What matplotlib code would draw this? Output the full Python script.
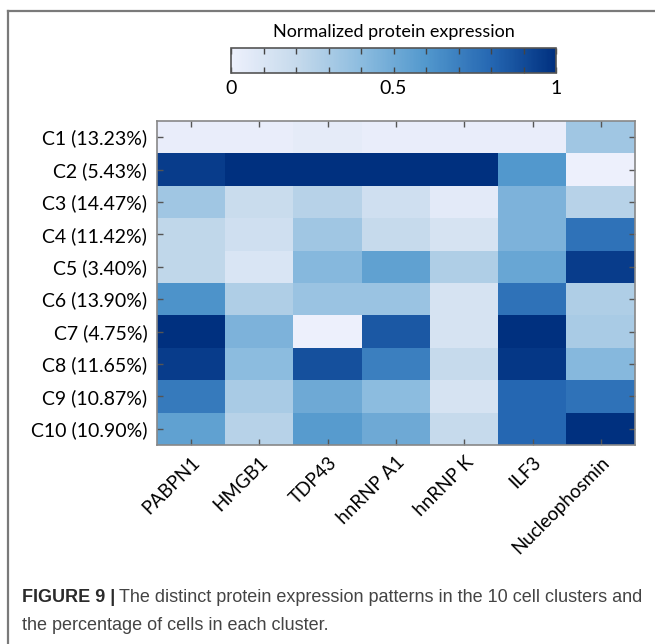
import numpy as np
import matplotlib
matplotlib.use('Agg')
import matplotlib.pyplot as plt
from matplotlib.colors import LinearSegmentedColormap
from matplotlib.lines import Line2D

plt.rcParams['font.family'] = ['Lato', 'DejaVu Sans']

# data
clusters = ['C1 (13.23%)', 'C2 (5.43%)', 'C3 (14.47%)', 'C4 (11.42%)', 'C5 (3.40%)',
            'C6 (13.90%)', 'C7 (4.75%)', 'C8 (11.65%)', 'C9 (10.87%)', 'C10 (10.90%)']
proteins = ['PABPN1', 'HMGB1', 'TDP43', 'hnRNP A1', 'hnRNP K', 'ILF3', 'Nucleophosmin']
expr = np.array([
    [0.02, 0.02, 0.04, 0.02, 0.02, 0.02, 0.33],
    [0.95, 1.00, 1.00, 1.00, 1.00, 0.60, 0.00],
    [0.33, 0.18, 0.25, 0.15, 0.05, 0.45, 0.25],
    [0.22, 0.15, 0.33, 0.20, 0.12, 0.45, 0.75],
    [0.22, 0.10, 0.42, 0.55, 0.28, 0.52, 0.95],
    [0.62, 0.28, 0.35, 0.35, 0.12, 0.75, 0.28],
    [1.00, 0.45, 0.00, 0.85, 0.12, 1.00, 0.30],
    [0.95, 0.40, 0.88, 0.70, 0.20, 0.97, 0.42],
    [0.72, 0.30, 0.50, 0.40, 0.12, 0.80, 0.75],
    [0.55, 0.25, 0.58, 0.50, 0.20, 0.80, 1.00],
])
cbar_ticks = [0, 0.5, 1]
cbar_ticklabels = ['0', '0.5', '1']

cmap = LinearSegmentedColormap.from_list(
    'exprblue', ['#EDF0FC', '#C6DAEC', '#8CBCDF', '#5298CD', '#2567B2', '#00307F'])

W, H = 655, 644
fig = plt.figure(figsize=(W / 100, H / 100), dpi=100)

def fx(px):
    return px / W

def fy(py):
    return 1 - py / H

# heatmap
ax = fig.add_axes([fx(157), fy(445), fx(635) - fx(157), fy(121) - fy(445)])
im = ax.imshow(expr, cmap=cmap, vmin=0, vmax=1, aspect='auto', interpolation='nearest')
ax.set_yticks(range(len(clusters)))
ax.set_yticklabels(clusters, fontsize=14)
ax.set_xticks(range(len(proteins)))
ax.set_xticklabels(proteins, fontsize=13.5, rotation=45, ha='right', rotation_mode='anchor')
ax.tick_params(direction='in', length=4, width=1, color='#555555', top=True, right=True, pad=6)
ax.tick_params(axis='y', pad=7)
for sp in ax.spines.values():
    sp.set_color('#888888')
    sp.set_linewidth(1.2)

# colorbar
cax = fig.add_axes([fx(231), fy(73), fx(556) - fx(231), fy(48) - fy(73)])
cb = fig.colorbar(im, cax=cax, orientation='horizontal')
cb.set_ticks(cbar_ticks)
cb.set_ticklabels(cbar_ticklabels)
cax.xaxis.set_minor_locator(matplotlib.ticker.MultipleLocator(0.1))
cax.tick_params(which='both', direction='in', length=4, width=1, color='#444444',
                top=True, bottom=True, labelsize=14, pad=5)
cb.outline.set_edgecolor('#555555')
cb.outline.set_linewidth(1.2)
cax.set_title('Normalized protein expression', fontsize=13, pad=8)

# frame lines
fig.add_artist(Line2D([fx(8), fx(8)], [0, fy(10.5)], color='#7a7a7a', lw=1.6))
fig.add_artist(Line2D([fx(8), 1], [fy(10.5), fy(10.5)], color='#7a7a7a', lw=1.6))

# caption
cap_font = ['Liberation Sans', 'DejaVu Sans']
t1 = fig.text(fx(22), fy(598), 'FIGURE 9 |', fontsize=13, fontweight='bold',
              family=cap_font, color='#2b2b2b', va='center')
fig.canvas.draw()
bb = t1.get_window_extent()
fig.text((bb.x1 + 4) / W, fy(598),
         'The distinct protein expression patterns in the 10 cell clusters and',
         fontsize=13, family=cap_font, color='#444444', va='center')
fig.text(fx(22), fy(626), 'the percentage of cells in each cluster.',
         fontsize=13, family=cap_font, color='#444444', va='center')

fig.savefig('out.png', dpi=100)
